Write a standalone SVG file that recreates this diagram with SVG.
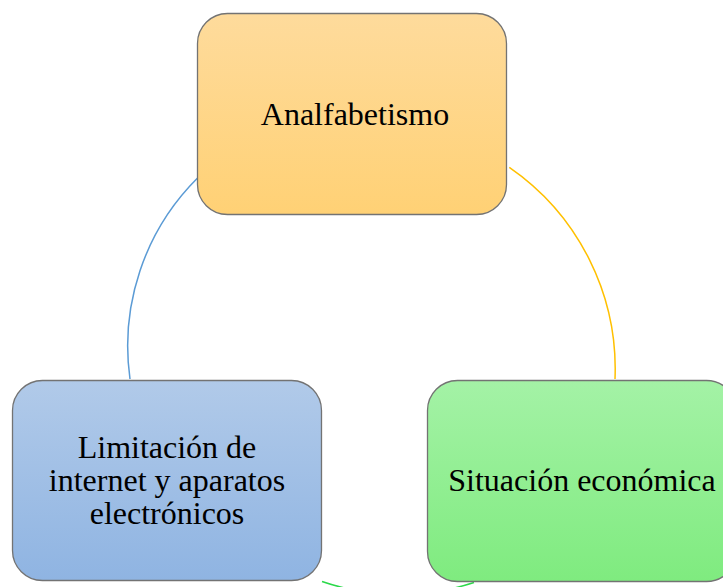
<svg xmlns="http://www.w3.org/2000/svg" width="723" height="587" viewBox="0 0 723 587">
<defs>
<linearGradient id="gOrange" x1="0" y1="0" x2="0" y2="1">
<stop offset="0" stop-color="#FEDB9C"/>
<stop offset="1" stop-color="#FFD175"/>
</linearGradient>
<linearGradient id="gBlue" x1="0" y1="0" x2="0" y2="1">
<stop offset="0" stop-color="#B1CAE9"/>
<stop offset="1" stop-color="#8FB4E2"/>
</linearGradient>
<linearGradient id="gGreen" x1="0" y1="0" x2="0" y2="1">
<stop offset="0" stop-color="#A4F2A6"/>
<stop offset="1" stop-color="#7FEB7F"/>
</linearGradient>
</defs>
<style>
.node{stroke:#737373;stroke-width:1.3}
.lbl{font-family:"Liberation Serif","Times New Roman",serif;font-size:32px;fill:#000;text-anchor:middle}
.arc{fill:none;stroke-width:1.5}
</style>
<rect width="723" height="587" fill="#fff"/>
<g id="connectors">
<path class="arc" stroke="#5B9BD5" d="M130,379 A237,237 0 0 1 197.3,178.3"/>
<path class="arc" stroke="#FFC000" d="M509.3,167.3 A245,245 0 0 1 615,379"/>
<path class="arc" stroke="#2BD94A" d="M474,582.5 A240,240 0 0 1 322,581.5"/>
</g>
<g id="node-analfabetismo">
<rect class="node" x="197.5" y="13.5" width="309" height="201" rx="30" fill="url(#gOrange)"/>
<text class="lbl" x="355" y="125">Analfabetismo</text>
</g>
<g id="node-limitacion">
<rect class="node" x="12.5" y="380.5" width="309" height="200" rx="30" fill="url(#gBlue)"/>
<text class="lbl" x="167" y="458">Limitación de</text>
<text class="lbl" x="167" y="491">internet y aparatos</text>
<text class="lbl" x="167" y="524">electrónicos</text>
</g>
<g id="node-situacion">
<rect class="node" x="427.5" y="380.5" width="309" height="201" rx="30" fill="url(#gGreen)"/>
<text class="lbl" x="582" y="491">Situación económica</text>
</g>
</svg>
